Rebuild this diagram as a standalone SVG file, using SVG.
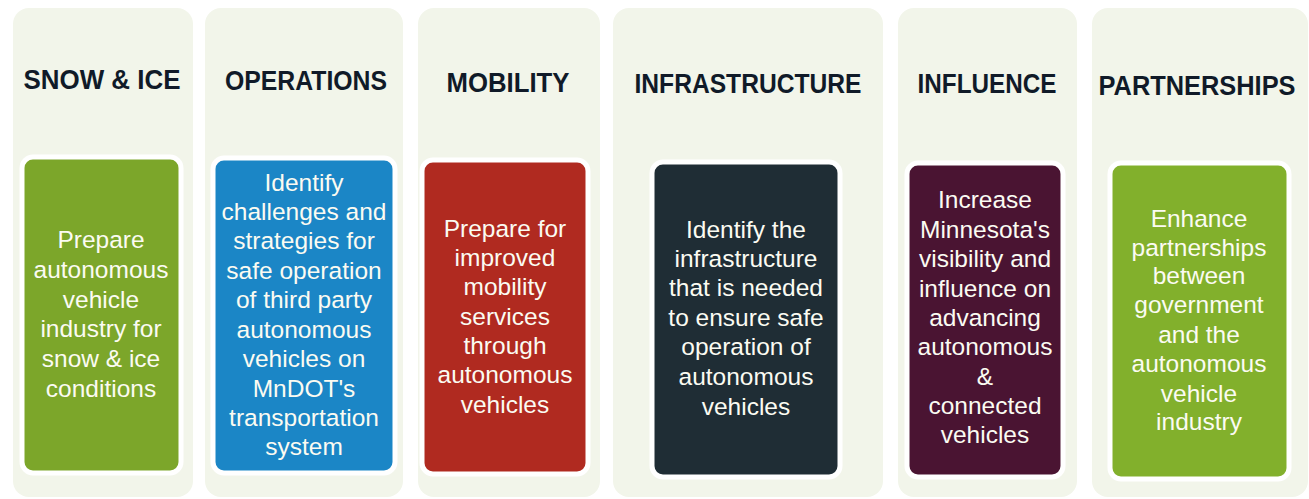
<svg xmlns="http://www.w3.org/2000/svg" width="1309" height="499" viewBox="0 0 1309 499">
<style>
.panel{fill:#f2f5ea}
.box{stroke:#ffffff;stroke-width:5}
.hd{font-family:"Liberation Sans",Arial,sans-serif;font-weight:bold;font-size:27px;fill:#101a28;text-anchor:middle}
.tx{font-family:"Liberation Sans",Arial,sans-serif;font-size:24.5px;fill:#fbfbf2;text-anchor:middle}
</style>
<rect width="1309" height="499" fill="#ffffff"/>
<g id="snow-ice">
<rect class="panel" x="13" y="8" width="180" height="489" rx="16"/>
<text class="hd" x="102" y="89" textLength="157" lengthAdjust="spacingAndGlyphs">SNOW &amp; ICE</text>
<rect class="box" x="22" y="157" width="159" height="316" rx="11" fill="#7ca62a"/>
<text class="tx" x="101" y="248">Prepare</text>
<text class="tx" x="101" y="278">autonomous</text>
<text class="tx" x="101" y="308">vehicle</text>
<text class="tx" x="101" y="337">industry for</text>
<text class="tx" x="101" y="367">snow &amp; ice</text>
<text class="tx" x="101" y="397">conditions</text>
</g>
<g id="operations">
<rect class="panel" x="205" y="8" width="198" height="489" rx="16"/>
<text class="hd" x="306" y="90" textLength="162" lengthAdjust="spacingAndGlyphs">OPERATIONS</text>
<rect class="box" x="213" y="158" width="182" height="315" rx="11" fill="#1b86c6"/>
<text class="tx" x="304" y="191">Identify</text>
<text class="tx" x="304" y="220">challenges and</text>
<text class="tx" x="304" y="249">strategies for</text>
<text class="tx" x="304" y="279">safe operation</text>
<text class="tx" x="304" y="308">of third party</text>
<text class="tx" x="304" y="338">autonomous</text>
<text class="tx" x="304" y="367">vehicles on</text>
<text class="tx" x="304" y="397">MnDOT's</text>
<text class="tx" x="304" y="426">transportation</text>
<text class="tx" x="304" y="455">system</text>
</g>
<g id="mobility">
<rect class="panel" x="418" y="8" width="182" height="489" rx="16"/>
<text class="hd" x="508" y="92" textLength="123" lengthAdjust="spacingAndGlyphs">MOBILITY</text>
<rect class="box" x="422" y="160" width="166" height="314" rx="11" fill="#b02a20"/>
<text class="tx" x="505" y="237">Prepare for</text>
<text class="tx" x="505" y="266">improved</text>
<text class="tx" x="505" y="295">mobility</text>
<text class="tx" x="505" y="325">services</text>
<text class="tx" x="505" y="354">through</text>
<text class="tx" x="505" y="383">autonomous</text>
<text class="tx" x="505" y="413">vehicles</text>
</g>
<g id="infrastructure">
<rect class="panel" x="613" y="8" width="270" height="489" rx="16"/>
<text class="hd" x="748" y="93" textLength="227" lengthAdjust="spacingAndGlyphs">INFRASTRUCTURE</text>
<rect class="box" x="652" y="162" width="188" height="315" rx="11" fill="#1f2d35"/>
<text class="tx" x="746" y="238">Identify the</text>
<text class="tx" x="746" y="267">infrastructure</text>
<text class="tx" x="746" y="296">that is needed</text>
<text class="tx" x="746" y="326">to ensure safe</text>
<text class="tx" x="746" y="355">operation of</text>
<text class="tx" x="746" y="385">autonomous</text>
<text class="tx" x="746" y="415">vehicles</text>
</g>
<g id="influence">
<rect class="panel" x="898" y="8" width="179" height="489" rx="16"/>
<text class="hd" x="987" y="93" textLength="139" lengthAdjust="spacingAndGlyphs">INFLUENCE</text>
<rect class="box" x="907" y="163" width="156" height="314" rx="11" fill="#4a1432"/>
<text class="tx" x="985" y="208">Increase</text>
<text class="tx" x="985" y="238">Minnesota's</text>
<text class="tx" x="985" y="267">visibility and</text>
<text class="tx" x="985" y="297">influence on</text>
<text class="tx" x="985" y="326">advancing</text>
<text class="tx" x="985" y="355">autonomous</text>
<text class="tx" x="985" y="385">&amp;</text>
<text class="tx" x="985" y="414">connected</text>
<text class="tx" x="985" y="443">vehicles</text>
</g>
<g id="partnerships">
<rect class="panel" x="1092" y="8" width="216" height="489" rx="16"/>
<text class="hd" x="1197" y="95" textLength="197" lengthAdjust="spacingAndGlyphs">PARTNERSHIPS</text>
<rect class="box" x="1110" y="163" width="179" height="316" rx="11" fill="#82b02c"/>
<text class="tx" x="1199" y="227">Enhance</text>
<text class="tx" x="1199" y="256">partnerships</text>
<text class="tx" x="1199" y="284">between</text>
<text class="tx" x="1199" y="313">government</text>
<text class="tx" x="1199" y="343">and the</text>
<text class="tx" x="1199" y="372">autonomous</text>
<text class="tx" x="1199" y="402">vehicle</text>
<text class="tx" x="1199" y="430">industry</text>
</g>
<g id="connectors"/>
</svg>
